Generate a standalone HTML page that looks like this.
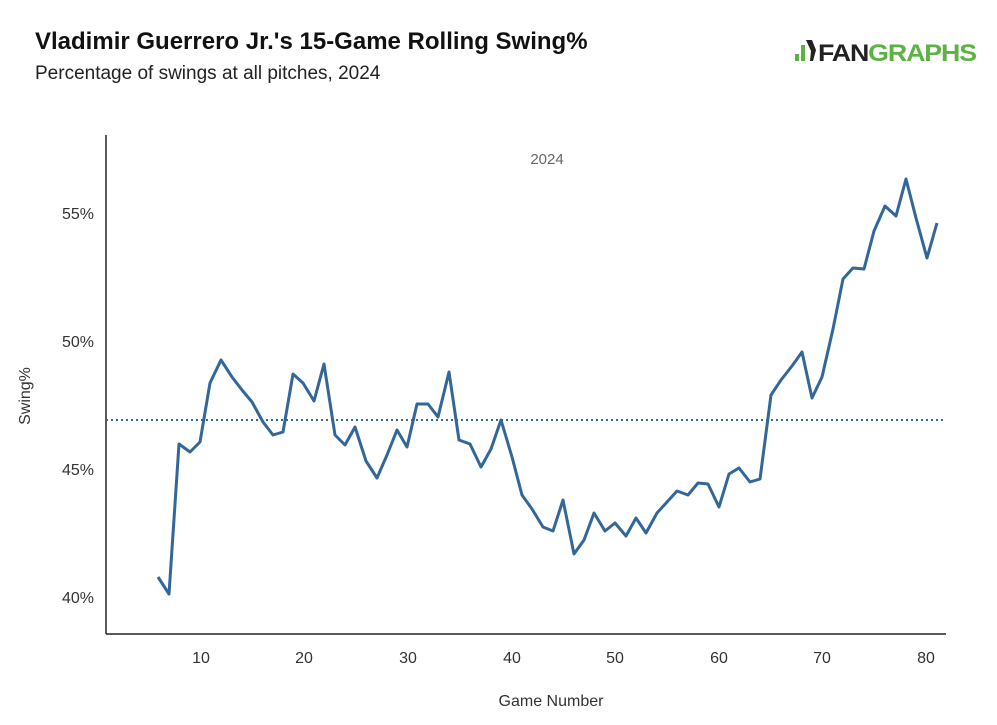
<!DOCTYPE html>
<html><head><meta charset="utf-8"><style>
body{margin:0;background:#fff;width:997px;height:720px;overflow:hidden;font-family:"Liberation Sans",sans-serif}
</style></head><body>
<svg width="997" height="720" xmlns="http://www.w3.org/2000/svg" font-family="Liberation Sans, sans-serif">
<text x="35" y="49" font-size="24" font-weight="bold" fill="#111">Vladimir Guerrero Jr.'s 15-Game Rolling Swing%</text>
<text x="35" y="79" font-size="19" fill="#222">Percentage of swings at all pitches, 2024</text>
<g font-weight="bold" font-size="24">
<rect x="795" y="54" width="4" height="7" fill="#5cb343"/>
<rect x="801" y="45" width="4" height="16" fill="#5cb343"/>
<path d="M806 40 l6 0 l4 10 l-3 11 l-3 0 l1-10z" fill="#222"/>
<text x="818" y="61" fill="#222" letter-spacing="-1" textLength="158" lengthAdjust="spacingAndGlyphs">FAN<tspan fill="#5cb343">GRAPHS</tspan></text>
</g>
<text x="547" y="164" font-size="15" fill="#666" text-anchor="middle">2024</text>
<line x1="106" y1="135" x2="106" y2="634" stroke="#222" stroke-width="1.5"/>
<line x1="106" y1="634" x2="946" y2="634" stroke="#222" stroke-width="1.5"/>
<g font-size="16" fill="#333" text-anchor="end">
<text x="94" y="219">55%</text><text x="94" y="347">50%</text><text x="94" y="475">45%</text><text x="94" y="603">40%</text>
</g>
<g font-size="16" fill="#333" text-anchor="middle">
<text x="201" y="663">10</text><text x="304" y="663">20</text><text x="408" y="663">30</text><text x="512" y="663">40</text><text x="615" y="663">50</text><text x="719" y="663">60</text><text x="822" y="663">70</text><text x="926" y="663">80</text>
</g>
<text x="551" y="706" font-size="16" fill="#333" text-anchor="middle">Game Number</text>
<text transform="translate(30,396) rotate(-90)" font-size="16" fill="#333" text-anchor="middle">Swing%</text>
<line x1="106" y1="420" x2="946" y2="420" stroke="#336699" stroke-width="2" stroke-dasharray="2,3"/>
<polyline fill="none" stroke="#336699" stroke-width="3" stroke-linejoin="round" points="158,577 169,594 179,444 190,452 200,442 210,383 221,360 232,377 242,390 252,402 263,422 273,435 283,432 293,374 303,383 314,401 324,364 335,435 345,445 355,427 366,461 377,478 387,455 397,430 407,447 417,404 428,404 438,417 449,372 459,440 470,444 481,467 491,449 501,420 512,457 522,495 532,509 543,527 553,531 563,500 574,554 584,540 594,513 605,531 615,523 626,536 636,518 646,533 657,513 667,502 677,491 688,495 698,483 708,484 719,507 729,474 739,468 750,482 760,479 771,395 781,380 792,366 802,352 812,398 822,377 833,329 843,279 853,268 864,269 874,231 885,206 896,216 906,179 916,218 927,258 937,223"/>
</svg>
</body></html>
